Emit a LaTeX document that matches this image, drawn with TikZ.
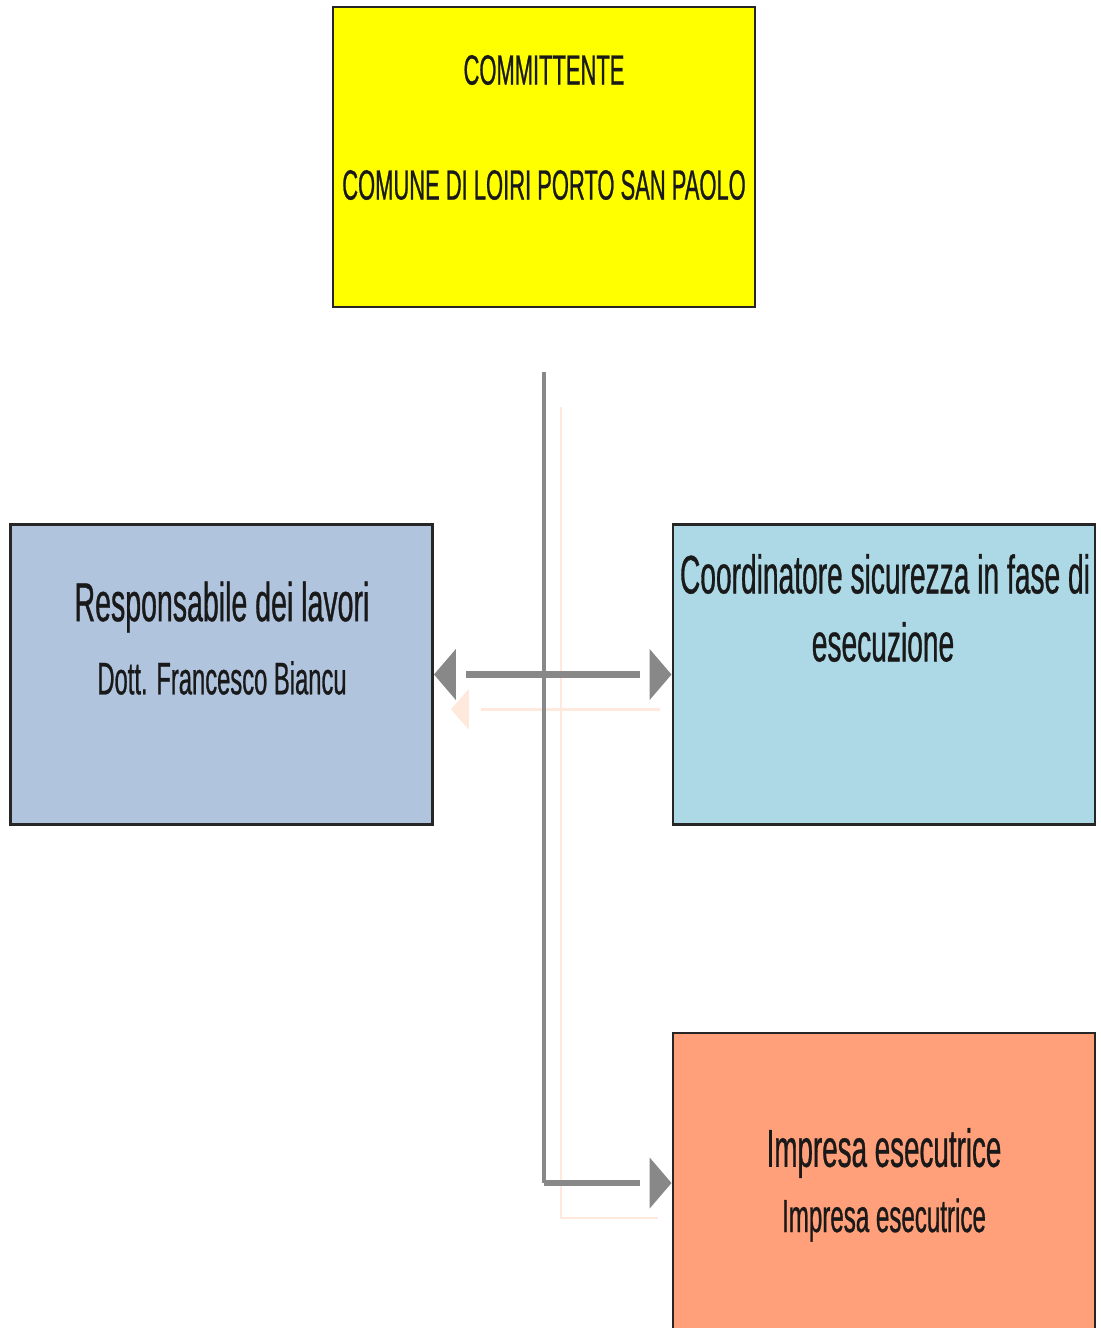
\documentclass[tikz,border=0pt]{standalone}
\usepackage{fontspec}
\setmainfont{Liberation Sans}[FakeStretch=0.52, FakeBold=0.6]
\usepackage{xcolor}
\usetikzlibrary{arrows.meta}
\usetikzlibrary{positioning}
\usetikzlibrary{backgrounds}

\definecolor{giallo}{HTML}{FFFF00}
\definecolor{azzurrogrigio}{HTML}{B0C4DE}
\definecolor{azzurro}{HTML}{ADD8E6}
\definecolor{salmone}{HTML}{FFA07A}
\definecolor{grigiofreccia}{HTML}{888888}
\definecolor{ombra}{HTML}{FFE9DC}

\begin{document}
\begin{tikzpicture}
    [x=0.025cm, y=-0.025cm,
      % Stil für die Kästen
      op/.style={rectangle, draw=black!85, line width=2pt, minimum width=10.55cm, minimum height=7.5cm},
      opY/.style={op, fill=giallo},
      opB/.style={op, fill=azzurrogrigio},
      opC/.style={op, fill=azzurro},
      opS/.style={op, fill=salmone},
      % Stil für Texte
      tx/.style={inner sep=0pt, text=black!90},
      % Stil für Pfeile
      tipE/.style={-{Rectangle[length=0.25cm, width=0.2pt, color=white] Triangle[length=0.55cm, width=1.25cm]}},
      tipD/.style={{Triangle[length=0.55cm, width=1.25cm] Rectangle[length=0.25cm, width=0.2pt, color=white]}-{Rectangle[length=0.25cm, width=0.2pt, color=white] Triangle[length=0.55cm, width=1.25cm]}},
      gl/.style={draw=grigiofreccia, line width=4.5pt},
      gv/.style={draw=grigiofreccia, line width=2.6pt},
      sh/.style={draw=ombra, line width=1.8pt}]
    \useasboundingbox (0,0) rectangle (1100,1328);

    % Knoten
    \node[opY] (committente) at (544,157) {};
    \node[opB] (responsabile) at (221.5,674.5) {};
    \node[opC] (coordinatore) at (884,674.5) {};
    \node[opS] (impresa) at (884,1183) {};

    \node[tx, font=\fontsize{30}{36}\selectfont] (comm1) at (544,70) {COMMITTENTE};
    \node[tx, font=\fontsize{30}{36}\selectfont] (comm2) at (544,185) {COMUNE DI LOIRI PORTO SAN PAOLO};
    \node[tx, font=\fontsize{39}{46}\selectfont] (resp1) at (222,607) {Responsabile dei lavori};
    \node[tx, font=\fontsize{32.5}{39}\selectfont] (resp2) at (222,678) {Dott. Francesco Biancu};
    \node[tx, font=\fontsize{38.5}{46}\selectfont] (coord1) at (885,574) {Coordinatore sicurezza in fase di};
    \node[tx, font=\fontsize{38.5}{46}\selectfont] (coord2) at (883,642) {esecuzione};
    \node[tx, font=\fontsize{38}{45}\selectfont] (impr1) at (884,1153) {Impresa esecutrice};
    \node[tx, font=\fontsize{33}{40}\selectfont] (impr2) at (884,1220) {Impresa esecutrice};

    \coordinate (tronco) at (544,372);
    \coordinate (gomito) at (tronco |- impresa.west);
    \coordinate (tronco2) at ([xshift=0.42cm, yshift=-0.87cm]tronco);
    \coordinate (gomito2) at ([xshift=0.42cm, yshift=-0.87cm]gomito);
    \coordinate (ombraA) at ([xshift=0.42cm, yshift=-0.87cm]responsabile.east);
    \coordinate (ombraB) at ([xshift=-0.3cm, yshift=-0.87cm]coordinatore.west);
    \coordinate (ombraC) at ([xshift=-0.35cm, yshift=-0.87cm]impresa.west);

    % Kanten (Schatten)
    \begin{scope}[on background layer]
      \draw[sh] (tronco2) -- (gomito2) -- (ombraC);
      \draw[sh, {Triangle[length=0.45cm, width=1cm] Rectangle[length=0.3cm, width=0.2pt, color=white]}-] (ombraA) -- (ombraB);
    \end{scope}

    % Kanten
    \draw[gv] (tronco) -- (gomito);
    \draw[gl, tipE] (gomito) -- (impresa.west);
    \draw[gl, tipD] (responsabile.east) -- (coordinatore.west);
  \end{tikzpicture}
\end{document}
